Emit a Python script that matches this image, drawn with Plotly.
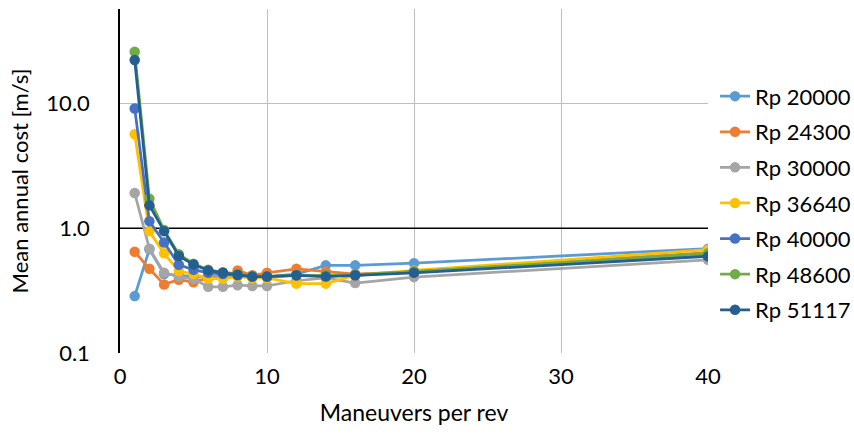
import plotly.graph_objects as go

# Maneuvers per revolution
maneuvers = [1, 2, 3, 4, 5, 6, 7, 8, 9, 10, 12, 14, 16, 20, 40]

# Mean annual cost [m/s] per perigee radius case
rp_20000 = [0.286, 0.68, 0.43, 0.42, 0.41, 0.41, 0.41, 0.42, 0.41, 0.41, 0.43, 0.505, 0.505, 0.526, 0.687]
rp_24300 = [0.65, 0.474, 0.355, 0.387, 0.37, 0.40, 0.40, 0.46, 0.42, 0.44, 0.474, 0.45, 0.43, 0.45, 0.64]
rp_30000 = [1.92, 0.687, 0.44, 0.41, 0.394, 0.34, 0.34, 0.35, 0.345, 0.345, 0.38, 0.40, 0.364, 0.406, 0.56]
rp_36640 = [5.69, 0.946, 0.63, 0.454, 0.43, 0.395, 0.395, 0.41, 0.40, 0.40, 0.36, 0.36, 0.42, 0.46, 0.674]
rp_40000 = [9.15, 1.14, 0.77, 0.51, 0.466, 0.44, 0.43, 0.42, 0.41, 0.41, 0.42, 0.42, 0.42, 0.45, 0.61]
rp_48600 = [26.1, 1.73, 0.97, 0.62, 0.52, 0.465, 0.445, 0.43, 0.415, 0.41, 0.42, 0.42, 0.425, 0.45, 0.63]
rp_51117 = [22.4, 1.53, 0.95, 0.60, 0.514, 0.46, 0.44, 0.425, 0.41, 0.41, 0.42, 0.41, 0.42, 0.44, 0.596]

series_names = ["Rp 20000", "Rp 24300", "Rp 30000", "Rp 36640", "Rp 40000", "Rp 48600", "Rp 51117"]
series_values = [rp_20000, rp_24300, rp_30000, rp_36640, rp_40000, rp_48600, rp_51117]
series_colors = ["#5B9BD5", "#ED7D31", "#A5A5A5", "#FFC000", "#4472C4", "#70AD47", "#255E91"]

y_tick_vals = [0.1, 1, 10]
y_tick_text = ["0.1", "1.0", "10.0"]
x_tick_vals = [0, 10, 20, 30, 40]
axis_cross_value = 1.0

FONT = "Lato, Carlito, Calibri, sans-serif"

fig = go.Figure()
for name, vals, color in zip(series_names, series_values, series_colors):
    fig.add_trace(go.Scatter(
        x=maneuvers, y=vals, name=name, mode="lines+markers",
        line=dict(color=color, width=2.75),
        marker=dict(color=color, size=10.5),
        legendgroup=name,
    ))

fig.update_layout(
    width=854, height=434,
    margin=dict(l=120, r=146, t=9, b=81, autoexpand=False),
    paper_bgcolor="white", plot_bgcolor="white",
    font=dict(family=FONT, size=22, color="#000000"),
    showlegend=True,
    legend=dict(x=1.012, xanchor="left", y=0.435, yanchor="middle",
                maxheight=420, font=dict(size=22), tracegroupgap=4,
                itemwidth=30, bgcolor="rgba(0,0,0,0)"),
)

fig.update_xaxes(
    range=[0, 40], tickvals=x_tick_vals,
    showgrid=True, gridcolor="#BFBFBF", gridwidth=1,
    showline=False, zeroline=False, ticks="",
    ticklabelstandoff=8, tickfont=dict(size=22),
    title=dict(text="Maneuvers per rev", font=dict(size=23), standoff=16),
)
fig.update_yaxes(
    type="log", range=[-1, 1.76],
    tickvals=y_tick_vals, ticktext=y_tick_text,
    showgrid=True, gridcolor="#BFBFBF", gridwidth=1,
    showline=True, linecolor="#000000", linewidth=1.5,
    zeroline=False, ticks="",
    ticklabelstandoff=24, tickfont=dict(size=22),
    title=dict(text="Mean annual cost [m/s]", font=dict(size=22), standoff=12),
)

# Horizontal axis line crossing at 1.0
fig.add_shape(type="line", xref="x", yref="y", x0=0, x1=40,
              y0=axis_cross_value, y1=axis_cross_value,
              line=dict(color="#000000", width=1.5), layer="between")

fig.write_html("out.html")
